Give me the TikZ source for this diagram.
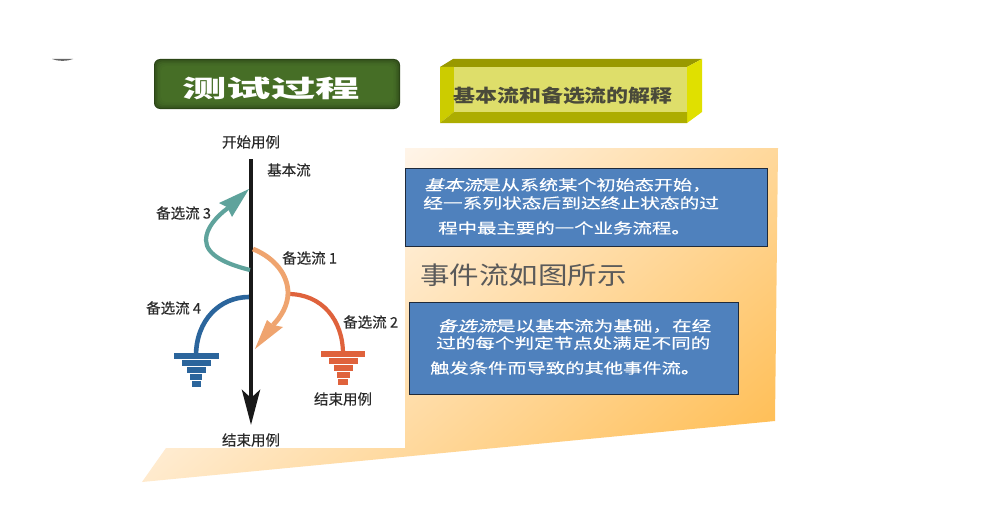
\documentclass[tikz,border=0pt]{standalone}
\usepackage{graphicx}
\usepackage{fontspec}
\setmainfont{Noto Sans CJK SC}
\newfontfamily\cjkit[FakeSlant=0.25,FakeBold=0.3]{Noto Sans CJK SC}
\newfontfamily\cjkfb[FakeBold=0.3]{Noto Sans CJK SC}
\usetikzlibrary{arrows.meta}
\definecolor{gradA}{HTML}{FFF5EA}
\definecolor{gradB}{HTML}{FFBE55}
\definecolor{boxblue}{HTML}{4F81BD}
\definecolor{boxline}{HTML}{1F2A3A}
\definecolor{teal1}{HTML}{5FA39C}
\definecolor{peach}{HTML}{EFA46F}
\definecolor{redf}{HTML}{DF623C}
\definecolor{bluef}{HTML}{2B659C}
\definecolor{labelc}{HTML}{2A2A2A}
\definecolor{greenedge}{HTML}{2A4416}
\definecolor{greenmid}{HTML}{4A7329}
\newcommand{\wide}[2]{\scalebox{#1}[1]{#2}}
\tikzset{
  x=1pt,y=-1pt,
  lab/.style={inner sep=0pt,text=labelc,font=\cjkfb\fontsize{14.5}{15}\selectfont},
  bodyline/.style={inner sep=0pt,anchor=west,text=white,font=\cjkfb\fontsize{14.5}{15}\selectfont},
  flowbox/.style={draw=boxline,line width=0.9pt,fill=boxblue},
  flowline/.style={line width=4.2pt}
}
\begin{document}
\begin{tikzpicture}
\useasboundingbox (0,0) rectangle (985,511);
\fill[white] (0,0) rectangle (985,511);
% small mark top left
\fill[gray!80!black] (52,59) .. controls (58,61.5) and (67,61.5) .. (73,59) -- cycle;
% background gradient polygon
\begin{scope}
\clip (405,148) -- (778,148) -- (775,421) -- (142,482) -- (166,448) -- (405,448) -- cycle;
\begin{scope}[transform canvas={rotate=-50}]
\shade[left color=gradA,right color=gradB] (370,-1200) rectangle (830,1200);
\end{scope}
\end{scope}
% green title
\fill[rounded corners=6pt,fill=greenedge] (154,59) rectangle (400,109);
\foreach \d in {1,2.5,4,5.5,7}{
  \fill[rounded corners=5pt,fill=greenmid,fill opacity=0.38] (154+\d,59+\d) rectangle (400-\d,109-\d);
}
\node[inner sep=0pt,text=white] (title) at (271,88) {\wide{1.85}{\fontsize{24}{24}\selectfont\bfseries 测试过程}};
% yellow bevel box
\fill[fill={rgb,255:red,153;green,153;blue,0}] (440,67) -- (453,59) -- (702,59) -- (687,67) -- cycle;
\fill[fill={rgb,255:red,224;green,224;blue,0}] (687,67) -- (702,59) -- (702,112) -- (687,123) -- cycle;
\fill[fill={rgb,255:red,204;green,204;blue,0}] (440,67) -- (454,67) -- (454,112) -- (440,123) -- cycle;
\fill[fill={rgb,255:red,173;green,173;blue,0}] (440,123) -- (454,112) -- (687,112) -- (687,123) -- cycle;
\fill[fill={rgb,255:red,222;green,222;blue,106}] (454,67) rectangle (687,112);
\node[inner sep=0pt,anchor=west,text={rgb,255:red,74;green,74;blue,58}] (ytitle) at (453,96) {\wide{1.22}{\fontsize{18}{18}\selectfont\bfseries 基本流和备选流的解释}};
% blue boxes
\node[flowbox,inner sep=0pt,minimum width=362pt,minimum height=78pt,anchor=north west] (boxA) at (405,168) {};
\node[flowbox,inner sep=0pt,minimum width=329pt,minimum height=92pt,anchor=north west] (boxB) at (409,302) {};
\node[bodyline] (a1) at (424,185) {\wide{1.32}{{\cjkit 基本流}是从系统某个初始态开始，}};
\node[bodyline] (a2) at (423,203) {\wide{1.36}{经一系列状态后到达终止状态的过}};
\node[bodyline] (a3) at (438,228) {\wide{1.34}{程中最主要的一个业务流程。}};
\node[inner sep=0pt,anchor=west,text={rgb,255:red,90;green,90;blue,90}] (evt) at (420,275) {\wide{1.2}{\fontsize{24.6}{25}\selectfont 事件流如图所示}};
\node[bodyline] (b1) at (437,326) {\wide{1.35}{{\cjkit 备选流}是以基本流为基础，在经}};
\node[bodyline] (b2) at (436,343) {\wide{1.35}{过的每个判定节点处满足不同的}};
\node[bodyline] (b3) at (430,368) {\wide{1.33}{触发条件而导致的其他事件流。}};
% diagram coordinates
\coordinate (mainS) at (251,159);
\coordinate (mainE) at (251,425);
\coordinate (tS) at (250,270);
\coordinate (tN) at (228,208);
\coordinate (oS) at (253,249);
\coordinate (oM) at (288,293);
\coordinate (oN) at (273,325);
\coordinate (rS) at (288,294);
\coordinate (rE) at (343,354);
\coordinate (bS) at (249,297);
\coordinate (bE) at (196,356);
% main flow
\draw[line width=4.8pt,color=black!90,-{Stealth[length=35pt,width=18pt,inset=8pt]}] (mainS) -- (mainE);
% teal
\draw[flowline,teal1] (tS) .. controls (226,264) and (206,255) .. (206,240) .. controls (206,228) and (217,216) .. (tN);
\fill[teal1] (249,189) -- (219,203) -- (227,207) -- (232,217) -- cycle;
% red, behind orange
\draw[flowline,redf] (rS) .. controls (322,294) and (343,320) .. (rE);
% orange
\draw[line width=4.8pt,peach] (oS) .. controls (275,258) and (288,275) .. (oM) .. controls (288,305) and (281,317) .. (oN);
\fill[peach] (255,349) -- (267,320) -- (273,325) -- (283,327) -- cycle;
% blue
\draw[line width=4.6pt,bluef] (bS) .. controls (220,297) and (196,320) .. (bE);
% ground symbols
\foreach \y/\w in {356/45,363/29,370/19,377/12,384/9}{
  \fill[bluef] (196-\w/2,\y-2.6) rectangle (196+\w/2,\y+2.6);
}
\foreach \y/\w in {354/44,361/29,368/19,375/13,382/10}{
  \fill[redf] (343-\w/2,\y-2.6) rectangle (343+\w/2,\y+2.6);
}
% labels
\node[lab] (start) at (251,142) {开始用例};
\node[lab,anchor=west] (lmain) at (267,170) {基本流};
\node[lab,anchor=west] (l3) at (156,213) {备选流 3};
\node[lab,anchor=west] (l1) at (282,258) {备选流 1};
\node[lab,anchor=west] (l4) at (146,308) {备选流 4};
\node[lab,anchor=west] (l2) at (343,322) {备选流 2};
\node[lab] (end1) at (343,399) {结束用例};
\node[lab] (end2) at (251,440) {结束用例};
\end{tikzpicture}
\end{document}
